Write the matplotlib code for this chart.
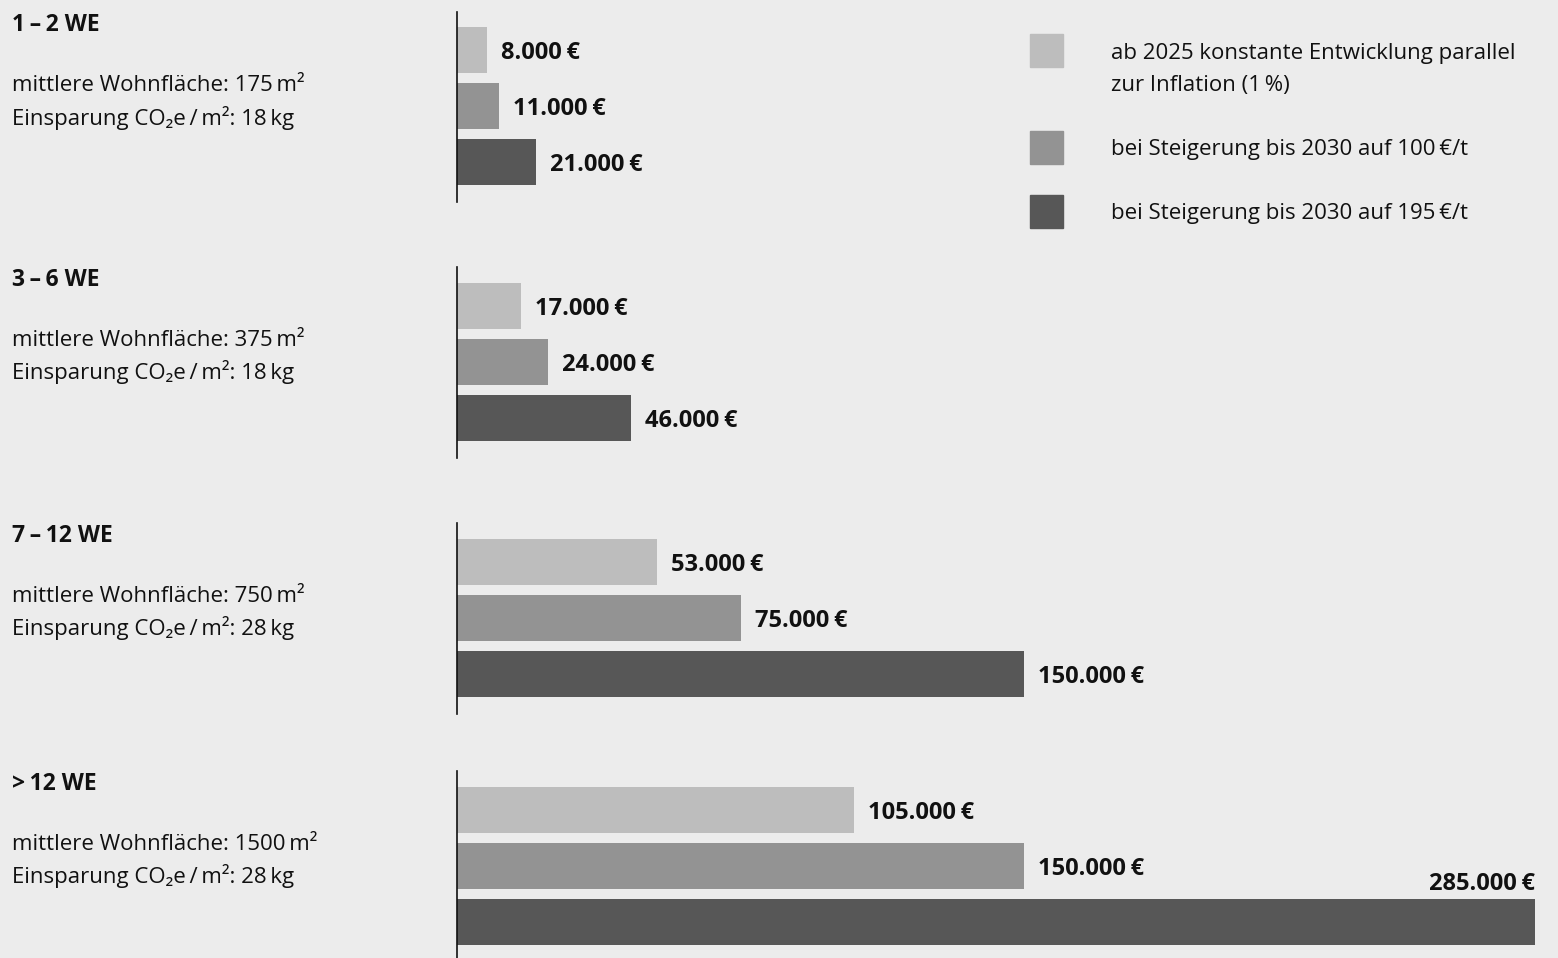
import matplotlib
matplotlib.use("Agg")
import matplotlib.pyplot as plt
from matplotlib.patches import Rectangle

# --- data -------------------------------------------------------------
groups = ["1\u2009\u2013\u20092 WE", "3\u2009\u2013\u20096 WE", "7\u2009\u2013\u200912 WE", ">\u200912 WE"]
wohnflaeche = [175, 375, 750, 1500]          # m²
einsparung = [18, 18, 28, 28]                # kg CO2e per m²
series_names = [
    "ab 2025 konstante Entwicklung parallel\nzur Inflation (1\u2009%)",
    "bei Steigerung bis 2030 auf 100\u2009\u20ac/t",
    "bei Steigerung bis 2030 auf 195\u2009\u20ac/t",
]
# savings in EUR per group, one list per series
konstant = [8000, 17000, 53000, 105000]
steig_100 = [11000, 24000, 75000, 150000]
steig_195 = [21000, 46000, 150000, 285000]

colors = ["#bdbdbd", "#939393", "#575757"]
bg = "#ececec"
FONT = ["Open Sans", "DejaVu Sans"]
plt.rcParams["font.family"] = FONT
FS = 16          # regular text
FS_VAL = 17      # bold value labels
FS_TITLE = 16.5  # bold block titles

W, H = 1558, 958
fig = plt.figure(figsize=(W / 100, H / 100), dpi=100, facecolor=bg)


def fx(px):
    return px / W


def fy(py):
    return 1 - py / H


def fmt_eur(v):
    return f"{v:,.0f}".replace(",", ".") + "\u2009\u20ac"


series = [konstant, steig_100, steig_195]
x0_px, x1_px = 457, 1535
xmax = max(steig_195)

# vertical layout of each block (pixel rows)
first_bar_center = [50, 306, 562, 810]
axis_top = [12, 267, 523, 771]
axis_bottom = [202, 458, 714, 958]
pitch = 56
bar_h = 46
title_y = [22, 277, 533, 781]

for g in range(len(groups)):
    top, bot = axis_top[g], axis_bottom[g]
    ax = fig.add_axes([fx(x0_px), fy(bot), fx(x1_px - x0_px), (bot - top) / H])
    ax.set_facecolor("none")
    c0 = first_bar_center[g]
    ax.set_xlim(0, xmax)
    ax.set_ylim((bot - c0) / pitch, (top - c0) / pitch)
    for s in range(3):
        v = series[s][g]
        ax.barh(s, v, height=bar_h / pitch, color=colors[s], left=0, zorder=2)
        label = fmt_eur(v)
        if v >= xmax:
            ax.annotate(label, xy=(v, s - bar_h / pitch / 2), xytext=(0, 3),
                        textcoords="offset pixels", ha="right", va="bottom",
                        fontsize=FS_VAL, fontweight="bold", color="#111111")
        else:
            ax.annotate(label, xy=(v, s), xytext=(14, 0),
                        textcoords="offset pixels", ha="left", va="center_baseline",
                        fontsize=FS_VAL, fontweight="bold", color="#111111")
    for side in ["top", "right", "bottom"]:
        ax.spines[side].set_visible(False)
    ax.spines["left"].set_linewidth(1.2)
    ax.spines["left"].set_color("#111111")
    ax.spines["left"].set_zorder(3)
    ax.set_xticks([])
    ax.set_yticks([])

    # block description on the left
    fig.text(fx(12), fy(title_y[g]), groups[g], fontsize=FS_TITLE, fontweight="bold",
             ha="left", va="center_baseline", color="#111111")
    fig.text(fx(12), fy(title_y[g] + 61),
             f"mittlere Wohnfläche: {wohnflaeche[g]}\u2009m²",
             fontsize=FS, ha="left", va="center_baseline", color="#111111")
    fig.text(fx(12), fy(title_y[g] + 93),
             f"Einsparung CO\u2082e\u2009/\u2009m²: {einsparung[g]}\u2009kg",
             fontsize=FS, ha="left", va="center_baseline", color="#111111")

# legend
leg_sq_top = [34, 131, 195]
leg_text_y = [51, 147, 211]
for s in range(3):
    fig.patches.append(Rectangle((fx(1030), fy(leg_sq_top[s] + 33)), fx(33), 33 / H,
                                 transform=fig.transFigure, color=colors[s]))
    for k, line in enumerate(series_names[s].split("\n")):
        fig.text(fx(1111), fy(leg_text_y[s] + 32 * k), line, fontsize=FS,
                 ha="left", va="center_baseline", color="#111111")

fig.savefig("out.png", dpi=100, facecolor=bg)
